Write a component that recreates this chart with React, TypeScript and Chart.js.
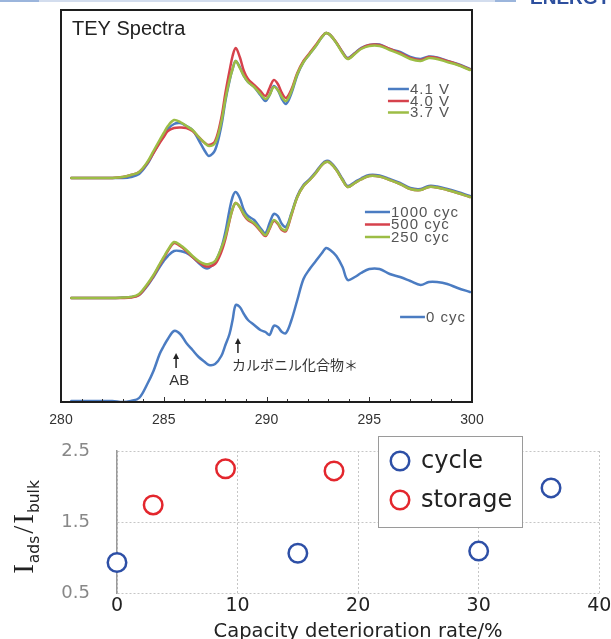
import React, { useEffect, useRef } from 'react';
import { Chart, registerables } from 'chart.js';
Chart.register(...registerables);

// ---------- TEY spectra (top panel) ----------
const energy = [280.5, 281.0, 281.5, 282.0, 282.5, 283.0, 283.4, 283.8, 284.2, 284.5, 284.8, 285.0, 285.2, 285.5, 285.8, 286.1, 286.4, 286.7, 287.0, 287.2, 287.5, 287.8, 288.0, 288.2, 288.35, 288.5, 288.7, 288.9, 289.1, 289.4, 289.7, 289.95, 290.15, 290.35, 290.55, 290.75, 290.95, 291.2, 291.5, 291.8, 292.1, 292.4, 292.7, 292.9, 293.1, 293.4, 293.7, 293.95, 294.3, 294.6, 295.0, 295.5, 296.0, 296.5, 297.0, 297.5, 297.9, 298.3, 298.8, 299.3, 299.9];

const v41 = [2.24, 2.24, 2.24, 2.24, 2.24, 2.24, 2.25, 2.28, 2.38, 2.49, 2.60, 2.67, 2.73, 2.78, 2.79, 2.76, 2.72, 2.62, 2.51, 2.46, 2.52, 2.76, 3.01, 3.21, 3.33, 3.41, 3.35, 3.26, 3.20, 3.15, 3.07, 3.01, 3.07, 3.16, 3.12, 3.03, 2.98, 3.08, 3.27, 3.40, 3.48, 3.56, 3.65, 3.69, 3.67, 3.59, 3.50, 3.44, 3.49, 3.54, 3.57, 3.575, 3.53, 3.50, 3.45, 3.43, 3.455, 3.445, 3.41, 3.38, 3.33];
const v40 = [2.24, 2.24, 2.24, 2.24, 2.24, 2.25, 2.27, 2.30, 2.39, 2.49, 2.59, 2.65, 2.71, 2.74, 2.745, 2.74, 2.71, 2.65, 2.59, 2.57, 2.61, 2.84, 3.09, 3.31, 3.46, 3.54, 3.45, 3.31, 3.23, 3.17, 3.11, 3.06, 3.14, 3.22, 3.18, 3.09, 3.04, 3.12, 3.29, 3.41, 3.49, 3.57, 3.655, 3.69, 3.67, 3.595, 3.495, 3.435, 3.485, 3.535, 3.57, 3.57, 3.53, 3.49, 3.44, 3.42, 3.45, 3.44, 3.41, 3.375, 3.325];
const v37 = [2.24, 2.24, 2.24, 2.24, 2.24, 2.25, 2.27, 2.30, 2.40, 2.51, 2.62, 2.69, 2.76, 2.82, 2.80, 2.76, 2.72, 2.65, 2.59, 2.56, 2.59, 2.80, 3.03, 3.22, 3.33, 3.41, 3.34, 3.26, 3.20, 3.15, 3.08, 3.03, 3.07, 3.15, 3.12, 3.05, 3.01, 3.10, 3.28, 3.40, 3.48, 3.56, 3.65, 3.69, 3.67, 3.59, 3.49, 3.43, 3.48, 3.53, 3.56, 3.56, 3.52, 3.48, 3.43, 3.41, 3.44, 3.43, 3.40, 3.37, 3.32];

const c1000 = [1.04, 1.04, 1.04, 1.04, 1.04, 1.045, 1.05, 1.07, 1.16, 1.25, 1.35, 1.41, 1.46, 1.51, 1.51, 1.49, 1.45, 1.39, 1.34, 1.34, 1.40, 1.54, 1.70, 1.92, 2.05, 2.10, 2.04, 1.92, 1.86, 1.82, 1.74, 1.69, 1.79, 1.88, 1.86, 1.78, 1.75, 1.88, 2.06, 2.17, 2.23, 2.30, 2.38, 2.41, 2.40, 2.33, 2.23, 2.16, 2.20, 2.235, 2.27, 2.265, 2.23, 2.19, 2.14, 2.13, 2.16, 2.155, 2.13, 2.10, 2.06];
const c500 = [1.04, 1.04, 1.04, 1.04, 1.04, 1.04, 1.045, 1.07, 1.17, 1.26, 1.37, 1.44, 1.51, 1.59, 1.56, 1.51, 1.45, 1.40, 1.36, 1.355, 1.38, 1.50, 1.63, 1.81, 1.93, 1.99, 1.95, 1.87, 1.82, 1.78, 1.71, 1.66, 1.73, 1.81, 1.78, 1.72, 1.71, 1.86, 2.05, 2.16, 2.22, 2.29, 2.37, 2.40, 2.39, 2.32, 2.22, 2.15, 2.19, 2.225, 2.26, 2.255, 2.22, 2.18, 2.13, 2.12, 2.15, 2.145, 2.12, 2.09, 2.05];
const c250 = [1.04, 1.04, 1.04, 1.04, 1.04, 1.045, 1.05, 1.08, 1.18, 1.27, 1.38, 1.45, 1.52, 1.60, 1.57, 1.52, 1.46, 1.41, 1.38, 1.38, 1.41, 1.54, 1.655, 1.82, 1.93, 1.99, 1.95, 1.88, 1.83, 1.79, 1.72, 1.67, 1.74, 1.82, 1.79, 1.73, 1.72, 1.87, 2.05, 2.16, 2.22, 2.29, 2.37, 2.40, 2.39, 2.32, 2.22, 2.15, 2.19, 2.225, 2.26, 2.255, 2.22, 2.18, 2.13, 2.12, 2.15, 2.145, 2.12, 2.09, 2.05];
const c0 = [0.01, 0.01, 0.01, 0.01, 0.01, 0.00, 0.01, 0.04, 0.18, 0.31, 0.48, 0.56, 0.63, 0.71, 0.68, 0.59, 0.52, 0.45, 0.40, 0.37, 0.38, 0.46, 0.57, 0.68, 0.82, 0.97, 0.95, 0.88, 0.82, 0.77, 0.72, 0.70, 0.67, 0.76, 0.75, 0.70, 0.69, 0.81, 1.02, 1.23, 1.33, 1.41, 1.49, 1.54, 1.52, 1.46, 1.35, 1.22, 1.25, 1.29, 1.33, 1.33, 1.28, 1.25, 1.21, 1.17, 1.20, 1.20, 1.18, 1.14, 1.10];

const energyTicks = [280, 285, 290, 295, 300];

// ---------- Intensity ratio (bottom panel) ----------
const cycleX = [0, 15, 30, 36];
const cycleY = [0.93, 1.06, 1.09, 1.98];
const storageX = [3, 9, 18];
const storageY = [1.74, 2.25, 2.22];
const capacityTicks = [0, 10, 20, 30, 40];
const ratioTicks = [0.5, 1.5, 2.5];

const BLUE = '#4b7cc2';
const RED = '#d6424c';
const GREEN = '#9cbd45';
const CYCLE_C = '#2d4fa6';
const STORAGE_C = '#e3262d';

const spectraDecor = {
  id: 'spectraDecor',
  afterDraw(chart: any) {
    const { ctx, chartArea: a, scales } = chart;
    const x = scales.x, y = scales.y;
    const X = (v: number) => x.getPixelForValue(v);
    const Y = (v: number) => y.getPixelForValue(v);
    ctx.save();
    // minor/major ticks inside bottom
    ctx.strokeStyle = '#333';
    ctx.lineWidth = 1;
    for (let v = 281; v < 300; v++) {
      const px = Math.round(X(v)) + 0.5;
      const len = v % 5 === 0 ? 5 : 3;
      ctx.beginPath();
      ctx.moveTo(px, a.bottom);
      ctx.lineTo(px, a.bottom - len);
      ctx.stroke();
    }
    // frame
    ctx.strokeStyle = '#1e1e1e';
    ctx.lineWidth = 2;
    ctx.strokeRect(a.left, a.top, a.right - a.left, a.bottom - a.top);
    // title
    ctx.fillStyle = '#222';
    ctx.font = '20px "Liberation Sans", Arial, sans-serif';
    ctx.textBaseline = 'alphabetic';
    ctx.textAlign = 'left';
    ctx.fillText('TEY Spectra', a.left + 11, a.top + 25);
    // series labels
    const labels = [
      { t: '4.1 V', c: BLUE, x0: 295.91, x1: 296.93, y: 3.13 },
      { t: '4.0 V', c: RED, x0: 295.91, x1: 296.93, y: 3.01 },
      { t: '3.7 V', c: GREEN, x0: 295.91, x1: 296.93, y: 2.895 },
      { t: '1000 cyc', c: BLUE, x0: 294.79, x1: 296.01, y: 1.90 },
      { t: '500 cyc', c: RED, x0: 294.79, x1: 296.01, y: 1.775 },
      { t: '250 cyc', c: GREEN, x0: 294.79, x1: 296.01, y: 1.65 },
      { t: '0 cyc', c: BLUE, x0: 296.5, x1: 297.71, y: 0.85 },
    ];
    ctx.font = '15px "Liberation Sans", Arial, sans-serif';
    (ctx as any).letterSpacing = '1px';
    ctx.textBaseline = 'middle';
    for (const l of labels) {
      ctx.strokeStyle = l.c;
      ctx.lineWidth = 2.5;
      ctx.beginPath();
      ctx.moveTo(X(l.x0), Y(l.y));
      ctx.lineTo(X(l.x1), Y(l.y));
      ctx.stroke();
      ctx.fillStyle = '#555';
      ctx.fillText(l.t, X(l.x1) + 1, Y(l.y) + 0.5);
    }
    (ctx as any).letterSpacing = '0px';
    // arrows
    const arrow = (xv: number, yHead: number, yTail: number) => {
      const px = X(xv), ph = Y(yHead), pt = Y(yTail);
      ctx.strokeStyle = '#222';
      ctx.fillStyle = '#222';
      ctx.lineWidth = 1.5;
      ctx.beginPath();
      ctx.moveTo(px, pt);
      ctx.lineTo(px, ph + 4);
      ctx.stroke();
      ctx.beginPath();
      ctx.moveTo(px, ph);
      ctx.lineTo(px - 3, ph + 6);
      ctx.lineTo(px + 3, ph + 6);
      ctx.closePath();
      ctx.fill();
    };
    arrow(285.6, 0.49, 0.34);
    arrow(288.61, 0.64, 0.49);
    ctx.fillStyle = '#333';
    ctx.font = '15px "Liberation Sans", Arial, sans-serif';
    ctx.textAlign = 'center';
    ctx.fillText('AB', X(285.75), Y(0.215));
    ctx.textAlign = 'left';
    ctx.font = '14px "Noto Sans CJK JP", sans-serif';
    ctx.fillText('カルボニル化合物＊', X(288.32), Y(0.37));
    ctx.restore();
  },
};

const ratioDecor = {
  id: 'ratioDecor',
  afterDraw(chart: any) {
    const { ctx, chartArea: a } = chart;
    ctx.save();
    // legend box
    const bx = 378.5, by = 6.5, bw = 144, bh = 91;
    ctx.fillStyle = '#fff';
    ctx.fillRect(bx, by, bw, bh);
    ctx.strokeStyle = '#9a9a9a';
    ctx.lineWidth = 1;
    ctx.strokeRect(bx, by, bw, bh);
    const items = [
      { t: 'cycle', c: CYCLE_C, y: 31 },
      { t: 'storage', c: STORAGE_C, y: 70 },
    ];
    ctx.font = '24px "DejaVu Sans", sans-serif';
    ctx.textBaseline = 'middle';
    ctx.textAlign = 'left';
    for (const it of items) {
      ctx.beginPath();
      ctx.arc(400, it.y, 9.25, 0, Math.PI * 2);
      ctx.fillStyle = '#fff';
      ctx.fill();
      ctx.strokeStyle = it.c;
      ctx.lineWidth = 2.5;
      ctx.stroke();
      ctx.fillStyle = '#222';
      ctx.fillText(it.t, 421, it.y + 1);
    }
    // y title I_ads / I_bulk
    const parts = [
      { t: 'I', f: '29px "Liberation Serif", serif', dy: 0, gap: 1 },
      { t: 'ads', f: '15.5px "DejaVu Sans", sans-serif', dy: 6, gap: 2 },
      { t: '/', f: '29px "Liberation Serif", serif', dy: 0, gap: 2 },
      { t: 'I', f: '29px "Liberation Serif", serif', dy: 0, gap: 1 },
      { t: 'bulk', f: '15.5px "DejaVu Sans", sans-serif', dy: 6, gap: 0 },
    ];
    let total = 0;
    for (const p of parts) {
      ctx.font = p.f;
      total += ctx.measureText(p.t).width + p.gap;
    }
    ctx.translate(33, (a.top + a.bottom) / 2 + 5);
    ctx.rotate(-Math.PI / 2);
    ctx.textBaseline = 'alphabetic';
    ctx.fillStyle = '#222';
    let cx = -total / 2;
    for (const p of parts) {
      ctx.font = p.f;
      ctx.fillText(p.t, cx, p.dy);
      cx += ctx.measureText(p.t).width + p.gap;
    }
    ctx.restore();
  },
};

export default function App() {
  const topRef = useRef<HTMLCanvasElement>(null);
  const botRef = useRef<HTMLCanvasElement>(null);

  useEffect(() => {
    const mk = (label: string, arr: number[], color: string, order: number) => ({
      label,
      data: energy.map((x, i) => ({ x, y: arr[i] })),
      borderColor: color,
      backgroundColor: color,
      borderWidth: 2.5,
      pointRadius: 0,
      tension: 0.35,
      fill: false,
      order,
      borderJoinStyle: 'round' as const,
      borderCapStyle: 'round' as const,
    });

    const top = new Chart(topRef.current as HTMLCanvasElement, {
      type: 'line',
      data: {
        datasets: [
          mk('4.1 V', v41, BLUE, 3),
          mk('4.0 V', v40, RED, 2),
          mk('3.7 V', v37, GREEN, 1),
          mk('1000 cyc', c1000, BLUE, 3),
          mk('500 cyc', c500, RED, 2),
          mk('250 cyc', c250, GREEN, 1),
          mk('0 cyc', c0, BLUE, 1),
        ],
      },
      options: {
        animation: false,
        responsive: false,
        events: [],
        layout: { padding: { left: 61, right: 139, top: 10, bottom: 0 } },
        plugins: { legend: { display: false }, tooltip: { enabled: false }, title: { display: false } },
        scales: {
          x: {
            type: 'linear',
            min: 280,
            max: 300,
            afterBuildTicks: (s: any) => {
              s.ticks = energyTicks.map((value) => ({ value }));
            },
            afterFit: (s: any) => {
              s.height = 28;
              s.paddingLeft = 0;
              s.paddingRight = 0;
            },
            grid: { display: false, drawTicks: false },
            border: { display: false },
            ticks: {
              color: '#333',
              font: { family: '"Liberation Sans", Arial, sans-serif', size: 14 },
              padding: 10,
              maxRotation: 0,
              autoSkip: false,
            },
          },
          y: { display: false, min: 0, max: 3.92 },
        },
      },
      plugins: [spectraDecor],
    } as any);

    const bottom = new Chart(botRef.current as HTMLCanvasElement, {
      type: 'scatter',
      data: {
        datasets: [
          {
            label: 'cycle',
            data: cycleX.map((x, i) => ({ x, y: cycleY[i] })),
            borderColor: CYCLE_C,
            backgroundColor: '#fff',
            pointRadius: 9.25,
            pointHoverRadius: 9.25,
            pointBorderWidth: 2.5,
            clip: false,
          },
          {
            label: 'storage',
            data: storageX.map((x, i) => ({ x, y: storageY[i] })),
            borderColor: STORAGE_C,
            backgroundColor: '#fff',
            pointRadius: 9.25,
            pointHoverRadius: 9.25,
            pointBorderWidth: 2.5,
            clip: false,
          },
        ],
      },
      options: {
        animation: false,
        responsive: false,
        events: [],
        layout: { padding: { left: 0, right: 10, top: 21, bottom: 0 } },
        plugins: { legend: { display: false }, tooltip: { enabled: false } },
        scales: {
          x: {
            type: 'linear',
            min: 0,
            max: 40,
            afterBuildTicks: (s: any) => {
              s.ticks = capacityTicks.map((value) => ({ value }));
            },
            afterFit: (s: any) => {
              s.height = 46;
              s.paddingLeft = 0;
              s.paddingRight = 0;
            },
            grid: { color: '#c6c6c6', lineWidth: 1, drawTicks: false },
            border: { display: false, dash: [2, 2] },
            ticks: {
              color: '#222',
              font: { family: '"DejaVu Sans", sans-serif', size: 19 },
              padding: 2,
              maxRotation: 0,
              autoSkip: false,
            },
            title: {
              display: true,
              text: 'Capacity deterioration rate/%',
              color: '#222',
              font: { family: '"DejaVu Sans", sans-serif', size: 19.5, lineHeight: 1.05 },
              padding: { top: 0, bottom: -3 },
            },
          },
          y: {
            type: 'linear',
            min: 0.5,
            max: 2.5,
            afterBuildTicks: (s: any) => {
              s.ticks = ratioTicks.map((value) => ({ value }));
            },
            afterFit: (s: any) => {
              s.width = 117;
              s.paddingTop = 0;
              s.paddingBottom = 0;
            },
            grid: { color: '#c6c6c6', lineWidth: 1, drawTicks: false },
            border: { display: true, color: '#9a9a9a', width: 1.5, dash: [2, 2] },
            ticks: {
              color: '#888',
              font: { family: '"DejaVu Sans", sans-serif', size: 18 },
              padding: 27,
              callback: (v: any) => Number(v).toFixed(1),
            },
          },
        },
      },
      plugins: [ratioDecor],
    } as any);

    return () => {
      top.destroy();
      bottom.destroy();
    };
  }, []);

  return (
    <div style={{ position: 'absolute', left: 0, top: 0, width: 611, height: 639, overflow: 'hidden', background: '#fff' }}>
      <canvas ref={topRef} width={611} height={430} style={{ position: 'absolute', left: 0, top: 0, width: 611, height: 430 }} />
      <canvas ref={botRef} width={611} height={209} style={{ position: 'absolute', left: 0, top: 430, width: 611, height: 209 }} />
      <div style={{ position: 'absolute', left: 0, top: 0, width: 516, height: 2, background: '#d3ddee' }} />
      <div style={{ position: 'absolute', left: 0, top: 0, width: 39, height: 2, background: '#9bb5dc' }} />
      <div style={{ position: 'absolute', left: 495, top: 0, width: 21, height: 2, background: '#9bb5dc' }} />
      <div
        style={{
          position: 'absolute',
          left: 530,
          top: -12,
          font: 'bold 19px "Liberation Sans", Arial, sans-serif',
          lineHeight: '19px',
          color: '#2d4f9e',
          whiteSpace: 'nowrap',
        }}
      >
        ENERGY
      </div>
    </div>
  );
}
